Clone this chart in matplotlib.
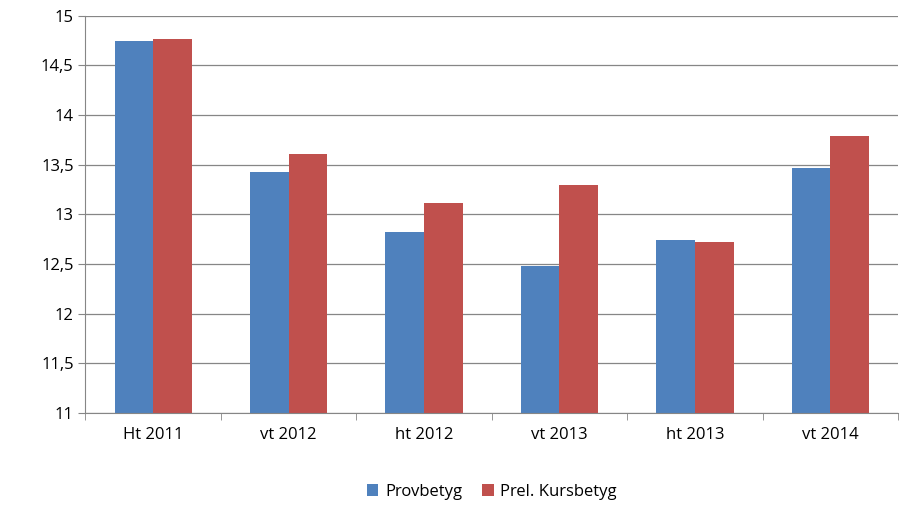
import matplotlib
matplotlib.use("Agg")
import matplotlib.pyplot as plt
import numpy as np

categories = ["Ht 2011", "vt 2012", "ht 2012", "vt 2013", "ht 2013", "vt 2014"]
provbetyg = [14.75, 13.43, 12.82, 12.48, 12.74, 13.47]
kursbetyg = [14.77, 13.61, 13.12, 13.30, 12.72, 13.79]
yticks = [11, 11.5, 12, 12.5, 13, 13.5, 14, 14.5, 15]
ylabels = ["11", "11,5", "12", "12,5", "13", "13,5", "14", "14,5", "15"]

plt.rcParams["font.family"] = "Open Sans"
fig = plt.figure(figsize=(9.09, 5.25), dpi=100)
ax = fig.add_axes([0.094, 0.213, 0.894, 0.757])
x = np.arange(len(categories))
w = 0.285
ax.bar(x - w/2, provbetyg, w, color="#4F81BD", label="Provbetyg", zorder=2)
ax.bar(x + w/2, kursbetyg, w, color="#C0504D", label="Prel. Kursbetyg", zorder=2)
ax.set_ylim(11, 15)
ax.set_xlim(-0.5, len(categories) - 0.5)
ax.set_yticks(yticks)
ax.set_yticklabels(ylabels, fontsize=12)
ax.set_xticks(x)
ax.set_xticklabels(categories, fontsize=12)
ax.set_xticks(np.arange(len(categories) + 1) - 0.5, minor=True)
ax.tick_params(axis="x", which="major", length=0, pad=10)
ax.tick_params(axis="x", which="minor", length=5, color="#868686")
ax.tick_params(axis="y", length=5, color="#868686")
ax.grid(axis="y", color="#868686", linewidth=0.9, zorder=0)
for s in ["top", "right"]:
    ax.spines[s].set_visible(False)
for s in ["left", "bottom"]:
    ax.spines[s].set_color("#868686")
ax.legend(loc="upper center", bbox_to_anchor=(0.5, -0.14), ncol=2, frameon=False,
          fontsize=12, handlelength=0.7, handleheight=0.7, columnspacing=1.2, handletextpad=0.4)
fig.savefig("out.png")
